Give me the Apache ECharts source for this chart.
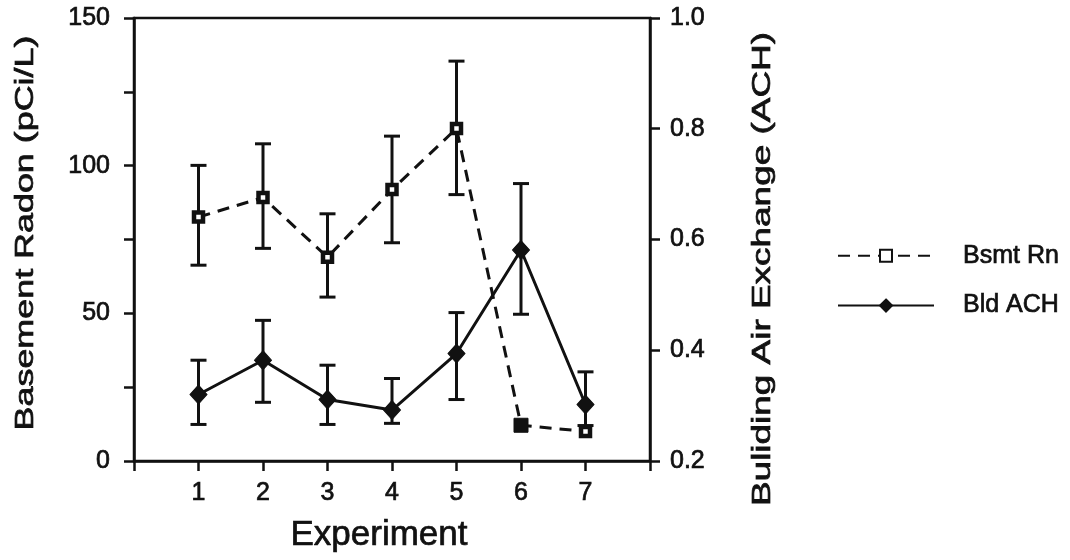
<!DOCTYPE html>
<html>
<head>
<meta charset="utf-8">
<script src="https://cdn.jsdelivr.net/npm/echarts@6/dist/echarts.min.js"></script>
<style>
html,body{margin:0;padding:0;background:#fff;}
#chart{width:1070px;height:560px;}
</style>
</head>
<body>
<div id="chart"></div>
<script>
// ---- data ----
var experiments = [1, 2, 3, 4, 5, 6, 7];
var xTickLabels = ['1', '2', '3', '4', '5', '6', '7'];
var leftTickLabels = ['0', '50', '100', '150'];
var rightTickLabels = ['0.2', '0.4', '0.6', '0.8', '1.0'];

var bsmtRn     = [82.6, 89.2, 69.0, 91.9, 112.6, 12.1, 10.0];
var bsmtRnLow  = [66.3, 72.0, 55.5, 73.9, 90.2, null, null];
var bsmtRnHigh = [100.1, 107.4, 83.7, 110.0, 135.4, null, null];

var bldACH     = [0.320, 0.382, 0.311, 0.292, 0.394, 0.581, 0.302];
var bldACHLow  = [0.266, 0.306, 0.266, 0.268, 0.311, 0.465, 0.264];
var bldACHHigh = [0.382, 0.454, 0.373, 0.349, 0.468, 0.701, 0.361];

var FONT = '"Liberation Sans", Arial, Helvetica, sans-serif';
var INK = '#111';
var TB = 0.7; // slight stroke to mimic the heavier scanned type

function pairs(xs, ys) {
  return xs.map(function (x, i) { return [x, ys[i]]; });
}
function errData(xs, lo, hi) {
  var out = [];
  xs.forEach(function (x, i) {
    if (lo[i] != null && hi[i] != null) out.push([x, lo[i], hi[i]]);
  });
  return out;
}
function errRender(params, api) {
  var x = api.value(0);
  var pLo = api.coord([x, api.value(1)]);
  var pHi = api.coord([x, api.value(2)]);
  var w = 8;
  var st = { stroke: INK, lineWidth: 3 };
  return {
    type: 'group',
    children: [
      { type: 'line', shape: { x1: pLo[0], y1: pLo[1], x2: pHi[0], y2: pHi[1] }, style: st },
      { type: 'line', shape: { x1: pLo[0] - w, y1: pLo[1], x2: pLo[0] + w, y2: pLo[1] }, style: st },
      { type: 'line', shape: { x1: pHi[0] - w, y1: pHi[1], x2: pHi[0] + w, y2: pHi[1] }, style: st }
    ]
  };
}

var bsmtData = pairs(experiments, bsmtRn).map(function (p, i) {
  if (i === 5) {
    return { value: p, symbolSize: 14, itemStyle: { color: INK, borderColor: INK, borderWidth: 1 } };
  }
  return p;
});

var labelStyle = { fontSize: 25, color: INK, fontFamily: FONT, textBorderColor: INK, textBorderWidth: TB };

var chart = echarts.init(document.getElementById('chart'), null, { renderer: 'canvas' });

var option = {
  backgroundColor: '#ffffff',
  animation: false,
  textStyle: { fontFamily: FONT, color: INK },
  grid: {
    left: 134, right: 420, top: 18, bottom: 99,
    show: true, borderColor: INK, borderWidth: 2.5, backgroundColor: 'transparent'
  },
  legend: {
    orient: 'vertical',
    left: 832, top: 238,
    itemWidth: 96, itemHeight: 15, itemGap: 24,
    data: ['Bsmt Rn', 'Bld ACH'],
    textStyle: { fontFamily: FONT, fontSize: 25, color: INK, textBorderColor: INK, textBorderWidth: TB, padding: [0, 0, 0, 24] }
  },
  xAxis: {
    type: 'value', min: 0, max: 8, interval: 1,
    axisLine: { lineStyle: { color: INK, width: 2.5 } },
    axisTick: { show: true, length: 10, lineStyle: { color: INK, width: 2.5 } },
    splitLine: { show: false },
    axisLabel: Object.assign({ margin: 20 }, labelStyle, {
      formatter: function (v) {
        var i = experiments.indexOf(v);
        return i >= 0 ? xTickLabels[i] : '';
      }
    })
  },
  yAxis: [
    {
      type: 'value', min: 0, max: 150, interval: 25, position: 'left',
      axisLine: { show: true, lineStyle: { color: INK, width: 2.5 } },
      axisTick: { show: true, length: 10, lineStyle: { color: INK, width: 2.5 } },
      splitLine: { show: false },
      axisLabel: Object.assign({ margin: 24 }, labelStyle, {
        formatter: function (v) {
          var s = String(v);
          return leftTickLabels.indexOf(s) >= 0 ? s : '';
        }
      })
    },
    {
      type: 'value', min: 0.2, max: 1.0, interval: 0.2, position: 'right',
      axisLine: { show: true, lineStyle: { color: INK, width: 2.5 } },
      axisTick: { show: true, length: 10, lineStyle: { color: INK, width: 2.5 } },
      splitLine: { show: false },
      axisLabel: Object.assign({ margin: 20 }, labelStyle, {
        formatter: function (v) {
          var s = v.toFixed(1);
          return rightTickLabels.indexOf(s) >= 0 ? s : '';
        }
      })
    }
  ],
  graphic: [
    {
      type: 'text', x: 26, y: 233, rotation: Math.PI / 2, scaleX: 1.38,
      style: { text: 'Basement Radon (pCi/L)', font: '26px ' + FONT, fill: INK, stroke: INK, lineWidth: TB, align: 'center', verticalAlign: 'middle' }
    },
    {
      type: 'text', x: 763, y: 269, rotation: Math.PI / 2, scaleX: 1.42,
      style: { text: 'Buliding Air Exchange (ACH)', font: '26px ' + FONT, fill: INK, stroke: INK, lineWidth: TB, align: 'center', verticalAlign: 'middle' }
    },
    {
      type: 'text', x: 379, y: 535,
      style: { text: 'Experiment', font: '35px ' + FONT, fill: INK, stroke: INK, lineWidth: TB, align: 'center', verticalAlign: 'middle' }
    }
  ],
  series: [
    {
      name: 'Bsmt Rn err', type: 'custom', xAxisIndex: 0, yAxisIndex: 0, z: 2,
      renderItem: errRender, data: errData(experiments, bsmtRnLow, bsmtRnHigh), silent: true
    },
    {
      name: 'Bld ACH err', type: 'custom', xAxisIndex: 0, yAxisIndex: 1, z: 2,
      renderItem: errRender, data: errData(experiments, bldACHLow, bldACHHigh), silent: true
    },
    {
      name: 'Bsmt Rn', type: 'line', xAxisIndex: 0, yAxisIndex: 0, z: 3,
      data: bsmtData,
      symbol: 'rect', symbolSize: 9,
      lineStyle: { color: INK, width: 3, type: [12, 8] },
      itemStyle: { color: '#ffffff', borderColor: INK, borderWidth: 4.5 }
    },
    {
      name: 'Bld ACH', type: 'line', xAxisIndex: 0, yAxisIndex: 1, z: 3,
      data: pairs(experiments, bldACH),
      symbol: 'diamond', symbolSize: [17, 19],
      lineStyle: { color: INK, width: 3, type: 'solid' },
      itemStyle: { color: INK, borderColor: INK, borderWidth: 1 }
    }
  ]
};
chart.setOption(option);
</script>
</body>
</html>
